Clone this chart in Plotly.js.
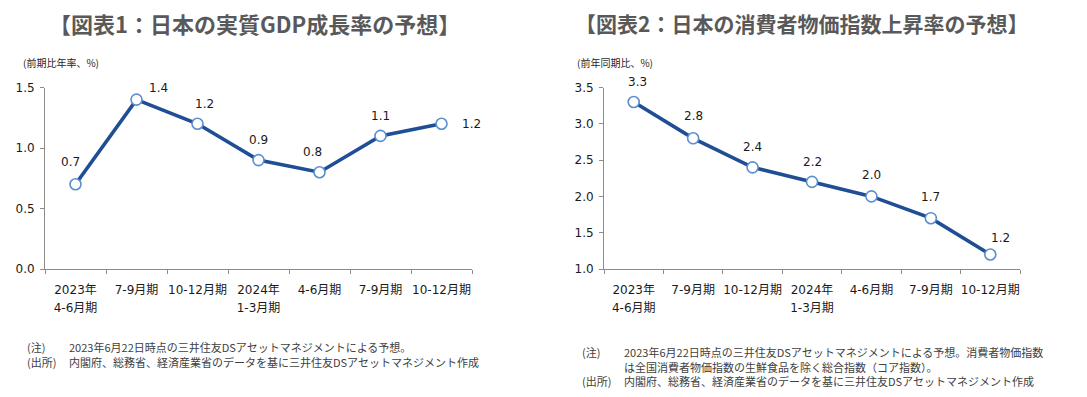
<!DOCTYPE html>
<html>
<head>
<meta charset="utf-8">
<script src="https://cdn.plot.ly/plotly-3.0.1.min.js"></script>
<style>html,body{margin:0;padding:0;background:#fff;}#chart{width:1087px;height:397px;}</style>
</head>
<body>
<div id="chart"></div>
<script>
// ---- data ----
const categoriesLine1 = ["2023年", "7-9月期", "10-12月期", "2024年", "4-6月期", "7-9月期", "10-12月期"];
const categoriesLine2 = ["4-6月期", "", "", "1-3月期", "", "", ""];
const gdpValues = [0.7, 1.4, 1.2, 0.9, 0.8, 1.1, 1.2];
const cpiValues = [3.3, 2.8, 2.4, 2.2, 2.0, 1.7, 1.2];
const gdpTitle = "【図表1：日本の実質GDP成長率の予想】";
const cpiTitle = "【図表2：日本の消費者物価指数上昇率の予想】";
const gdpUnit = "(前期比年率、%)";
const cpiUnit = "(前年同期比、%)";
const gdpNotes = [["(注)", "2023年6月22日時点の三井住友DSアセットマネジメントによる予想。"],
                  ["(出所)", "内閣府、総務省、経済産業省のデータを基に三井住友DSアセットマネジメント作成"]];
const cpiNotes = [["(注)", "2023年6月22日時点の三井住友DSアセットマネジメントによる予想。消費者物価指数"],
                  ["", "は全国消費者物価指数の生鮮食品を除く総合指数（コア指数）。"],
                  ["(出所)", "内閣府、総務省、経済産業省のデータを基に三井住友DSアセットマネジメント作成"]];

// ---- styles ----
const W = 1087, H = 397;
const numFont = "DejaVu Sans, Noto Sans CJK JP, sans-serif";
const jpFont = "Noto Sans CJK JP, Noto Sans, sans-serif";
const lineColor = "#1F4E96";
const markerEdge = "#5B8FD0";
const axisColor = "#8C8C8C";
const textColor = "#1a1a1a";
const gdpShift = [[-5, 22], [22, 12], [7, 20], [0, 20], [-7, 20], [0, 20], [30, 0]];
const cpiShift = [[4, 20], [0, 22], [0, 20], [0, 20], [0, 21], [0, 21], [10, 16]];

const N = categoriesLine1.length;
const idx = categoriesLine1.map((c, i) => i);
const bounds = idx.map(i => i - 0.5).concat([N - 0.5]);

function trace(vals, xa, ya) {
  return {
    x: idx, y: vals, xaxis: xa, yaxis: ya, type: "scatter", mode: "lines+markers",
    line: {color: lineColor, width: 3.6},
    marker: {size: 11, color: "#FFFFFF", line: {color: markerEdge, width: 1.6}},
    hoverinfo: "skip", cliponaxis: false
  };
}
// invisible trace to activate label axes
function dummy(xa, ya, y0) {
  return {x: [0], y: [y0], xaxis: xa, yaxis: ya, type: "scatter", mode: "markers",
    marker: {opacity: 0}, hoverinfo: "skip"};
}

function xAxis(l, r, anchor) {
  return {
    domain: [l / W, r / W], anchor: anchor, range: [-0.5, N - 0.5],
    showline: true, linecolor: axisColor, linewidth: 1, showgrid: false, zeroline: false,
    tickmode: "array", tickvals: bounds, ticktext: bounds.map(() => ""),
    ticks: "outside", ticklen: 4, tickcolor: axisColor, fixedrange: true
  };
}
function xLabelAxis(l, r, anchor, overlay, labels, standoff) {
  return {
    domain: [l / W, r / W], anchor: anchor, overlaying: overlay, range: [-0.5, N - 0.5],
    showline: false, showgrid: false, zeroline: false, ticks: "",
    tickmode: "array", tickvals: idx, ticktext: labels, tickangle: 0, ticklabelstandoff: standoff,
    tickfont: {family: numFont, size: 12, color: textColor}, fixedrange: true
  };
}
function yAxis(anchor, lo, hi) {
  return {
    domain: [(H - 269) / H, (H - 87.5) / H], anchor: anchor, range: [lo, hi], dtick: 0.5, tick0: 0,
    tickformat: ".1f", showline: true, linecolor: axisColor, linewidth: 1, showgrid: false,
    zeroline: false, ticks: "outside", ticklen: 4, tickcolor: axisColor, ticklabelstandoff: 3,
    tickfont: {family: numFont, size: 12, color: textColor}, fixedrange: true
  };
}

const annotations = [];
function dataLabels(vals, shifts, xa, ya) {
  vals.forEach((v, i) => {
    annotations.push({x: idx[i], y: v, xref: xa, yref: ya, text: v.toFixed(1), showarrow: false,
      xshift: shifts[i][0], yshift: shifts[i][1], font: {family: numFont, size: 12, color: textColor}});
  });
}
dataLabels(gdpValues, gdpShift, "x", "y");
dataLabels(cpiValues, cpiShift, "x2", "y2");

function paperText(text, px, py, size, color, opts) {
  annotations.push(Object.assign({x: px / W, y: 1 - py / H, xref: "paper", yref: "paper", text: text,
    showarrow: false, xanchor: "left", yanchor: "middle",
    font: {family: jpFont, size: size, color: color}}, opts || {}));
}
paperText(gdpTitle, 254, 23, 22, "#595959", {xanchor: "center", font: {family: jpFont, size: 22, color: "#595959", weight: 700}});
paperText(cpiTitle, 801, 23, 21, "#595959", {xanchor: "center", font: {family: jpFont, size: 21, color: "#595959", weight: 700}});
paperText(gdpUnit, 21, 62, 10, "#262626");
paperText(cpiUnit, 575, 62, 10, "#262626");
gdpNotes.forEach((n, i) => {
  const y = 347 + i * 14.5;
  if (n[0]) paperText(n[0], 25, y, 11, "#404040");
  paperText(n[1], 67, y, 11, "#404040");
});
cpiNotes.forEach((n, i) => {
  const y = 352 + i * 14.5;
  if (n[0]) paperText(n[0], 580, y, 11, "#404040");
  paperText(n[1], 622, y, 11, "#404040");
});

const layout = {
  width: W, height: H, margin: {l: 0, r: 0, t: 0, b: 0},
  paper_bgcolor: "#FFFFFF", plot_bgcolor: "#FFFFFF", showlegend: false,
  xaxis: xAxis(45, 472, "y"),
  yaxis: yAxis("x", 0, 1.5),
  xaxis2: xAxis(604, 1020, "y2"),
  yaxis2: yAxis("x2", 1.0, 3.5),
  xaxis3: xLabelAxis(45, 472, "y", "x", categoriesLine1, 12),
  xaxis4: xLabelAxis(604, 1020, "y2", "x2", categoriesLine1, 12),
  xaxis5: xLabelAxis(45, 472, "y", "x", categoriesLine2, 30),
  xaxis6: xLabelAxis(604, 1020, "y2", "x2", categoriesLine2, 30),
  annotations: annotations
};

Plotly.newPlot("chart", [
  trace(gdpValues, "x", "y"), trace(cpiValues, "x2", "y2"),
  dummy("x3", "y", 0), dummy("x4", "y2", 1), dummy("x5", "y", 0), dummy("x6", "y2", 1)
], layout, {staticPlot: true, displayModeBar: false});
</script>
</body>
</html>
